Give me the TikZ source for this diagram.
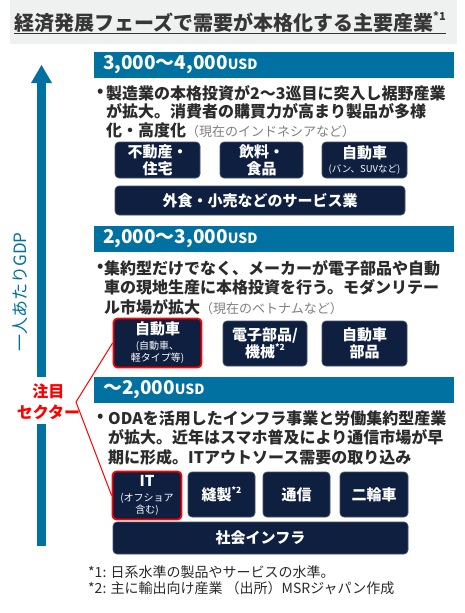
\documentclass[tikz,border=0pt]{standalone}
\usepackage{fontspec}
\setmainfont{Noto Sans CJK JP}
\definecolor{hdrblue}{HTML}{0071A1}
\definecolor{navy}{HTML}{0E1F40}
\definecolor{boxedge}{HTML}{46536A}
\definecolor{txt}{HTML}{2B2B2B}
\definecolor{paren}{HTML}{808080}
\definecolor{band}{HTML}{EFF1F1}
\definecolor{ttl}{HTML}{363636}
\newcommand{\fs}[2]{\fontsize{#1}{#2}\selectfont}
\newcommand{\grp}[1]{{\color{paren}\mdseries\fs{13}{16}#1}}
\newcommand{\supnote}[2]{\raisebox{#1}{\fs{8.5}{9}#2}}
\begin{document}
\begin{tikzpicture}[x=1pt,y=-1pt,
  sbox/.style={rectangle, rounded corners=4pt, fill=navy, draw=boxedge, line width=0.7pt,
    text=white, font=\bfseries\fs{15}{17}, align=center, inner sep=0pt},
  redbox/.style={draw=red, line width=1.8pt},
  hdr/.style={fill=hdrblue, minimum height=26pt, text width=342pt, inner xsep=9pt, inner ysep=0pt,
    align=left, text=white, font=\bfseries\fs{19}{20}},
  bodytxt/.style={anchor=west, text=txt, font=\bfseries\fs{16}{19}, inner sep=0pt},
  foot/.style={anchor=west, text=txt, font=\fs{14}{16}, inner sep=0pt}]
\useasboundingbox (0,0) rectangle (465,613);
\fill[white] (0,0) rectangle (465,613);
% title band
\fill[band] (10,0) rectangle (457,44);
\node[anchor=west, inner sep=0pt, text=ttl, font=\bfseries\fs{20}{22}] (title) at (14,22)
  {経済発展フェーズで需要が本格化する主要産業\supnote{0.5em}{\fs{11}{11}*1}};
\draw[ttl, line width=1.5pt] (title.south west) ++(0,1) coordinate (ul1) -- (ul1 -| title.south east);

% GDP axis
\fill[hdrblue] (37,82) rectangle (46,377);
\fill[hdrblue] (37,424) rectangle (46,546);
\fill[hdrblue] (31,83) -- (41.5,65) -- (52,83) -- cycle;
\node[rotate=90, text=hdrblue, font=\fs{17}{19}, inner sep=0pt] (gdp) at (20,292) {一人あたりGDP};

% section 1
\node[hdr] (h1) at (274,64.5) {3,000〜4,000{\fs{14}{14}USD}};
\node[bodytxt] (s1b) at (97,93) {•};
\node[bodytxt] (s1a) at (106,93) {製造業の本格投資が2〜3巡目に突入し裾野産業};
\node[bodytxt] (s1c) at (106,111.5) {が拡大。消費者の購買力が高まり製品が多様};
\node[bodytxt] (s1d) at (106,130) {化・高度化\grp{（現在のインドネシアなど）}};
\node[sbox, minimum width=85pt, minimum height=36pt] (b11) at (157.5,160) {不動産・\\住宅};
\node[sbox, minimum width=83pt, minimum height=36pt] (b12) at (261.5,160) {飲料・\\食品};
\node[sbox, minimum width=85pt, minimum height=36pt] (b13) at (364.5,160) {自動車\\[-3pt]{\mdseries\fs{9.5}{11}(バン、SUVなど)}};
\node[sbox, minimum width=290pt, minimum height=29pt] (b14) at (260,200.5) {外食・小売などのサービス業};

% section 2
\node[hdr] (h2) at (274,238.5) {2,000〜3,000{\fs{14}{14}USD}};
\node[bodytxt] (s2b) at (97,268) {•};
\node[bodytxt] (s2a) at (104,268) {集約型だけでなく、メーカーが電子部品や自動};
\node[bodytxt] (s2c) at (104,287.5) {車の現地生産に本格投資を行う。モダンリテー};
\node[bodytxt] (s2d) at (104,307) {ル市場が拡大\grp{（現在のベトナムなど）}};
\node[sbox, redbox, minimum width=88pt, minimum height=49pt] (b21) at (157.5,343)
  {自動車\\[-2pt]{\mdseries\fs{10}{12}(自動車、}\\[-5pt]{\mdseries\fs{10}{12}軽タイプ等)}};
\node[sbox, minimum width=84pt, minimum height=45pt] (b22) at (265,343.5) {電子部品/\\機械\supnote{0.45em}{*2}};
\node[sbox, minimum width=85pt, minimum height=45pt] (b23) at (364.5,343.5) {自動車\\部品};

% section 3
\node[hdr] (h3) at (274,390) {〜2,000{\fs{14}{14}USD}};
\node[bodytxt] (s3b) at (97,418) {•};
\node[bodytxt] (s3a) at (108,418) {ODAを活用したインフラ事業と労働集約型産業};
\node[bodytxt] (s3c) at (108,437.5) {が拡大。近年はスマホ普及により通信市場が早};
\node[bodytxt] (s3d) at (108,457) {期に形成。ITアウトソース需要の取り込み};
\node[sbox, redbox, minimum width=69pt, minimum height=48pt] (b31) at (147,495.5)
  {IT\\[-2pt]{\mdseries\fs{10}{12}(オフショア}\\[-5pt]{\mdseries\fs{10}{12}含む)}};
\node[sbox, minimum width=67pt, minimum height=45pt] (b32) at (221.5,494.5) {縫製\supnote{0.45em}{*2}};
\node[sbox, minimum width=67pt, minimum height=45pt] (b33) at (296.5,494.5) {通信};
\node[sbox, minimum width=68pt, minimum height=45pt] (b34) at (374,494.5) {二輪車};
\node[sbox, minimum width=295pt, minimum height=32pt] (b35) at (260.5,538) {社会インフラ};

% focus label and bracket
\node[align=center, text=red, font=\bfseries\fs{16}{21}, inner sep=0pt] (focus) at (48.5,402) {注目\\セクター};
\coordinate (v) at (76,402);
\draw[red, line width=1pt] (b21.west) -- (v) -- (b31.west);

% footnotes
\node[foot] (f1) at (88,572) {*1: 日系水準の製品やサービスの水準。};
\node[foot] (f2) at (88,588) {*2: 主に輸出向け産業 （出所）MSRジャパン作成};
\end{tikzpicture}
\end{document}
